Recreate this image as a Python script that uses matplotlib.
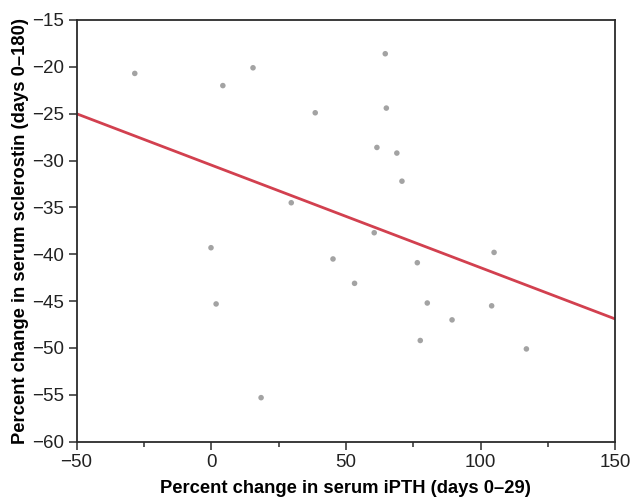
import matplotlib
matplotlib.use("Agg")
import matplotlib.pyplot as plt
import numpy as np
from matplotlib.ticker import MultipleLocator

# percent change in iPTH (days 0-29) vs percent change in sclerostin (days 0-180)
ipth = [-28.4, 4.3, 15.5, 38.6, 29.7, -0.1, 64.6, 65.0, 61.5, 68.9, 70.8, 60.5,
        1.8, 18.5, 45.2, 105.0, 76.5, 53.2, 80.2, 104.1, 89.4, 77.6, 117.0]
sclerostin = [-20.7, -22.0, -20.1, -24.9, -34.5, -39.3, -18.6, -24.4, -28.6, -29.2, -32.2, -37.7,
              -45.3, -55.3, -40.5, -39.8, -40.9, -43.1, -45.2, -45.5, -47.0, -49.2, -50.1]

# regression line
fit_intercept = -30.48
fit_slope = -0.1095

plt.rcParams['font.family'] = ['Liberation Sans', 'DejaVu Sans']

fig = plt.figure(figsize=(6.33, 5), dpi=100)
ax = fig.add_axes([0.121, 0.1166, 0.851, 0.8434])

ax.scatter(ipth, sclerostin, s=16, color="#a3a3a3", edgecolors="none", zorder=3)

xs = np.array([-50, 150])
ax.plot(xs, fit_intercept + fit_slope * xs, color="#d2404f", linewidth=2.0, zorder=2)

ax.set_xlim(-50, 150)
ax.set_ylim(-60, -15)
ax.xaxis.set_major_locator(MultipleLocator(50))
ax.xaxis.set_minor_locator(MultipleLocator(25))
ax.yaxis.set_major_locator(MultipleLocator(5))

for s in ax.spines.values():
    s.set_color("#2b2b2b")
    s.set_linewidth(1.3)

ax.tick_params(axis="both", which="major", direction="out", length=6, width=1.1,
               color="#2b2b2b", labelsize=13.5, labelcolor="#222222", pad=3)
ax.tick_params(axis="x", which="minor", direction="out", length=3.5, width=1.1, color="#2b2b2b")
ax.tick_params(top=False, right=False)

ax.set_xlabel("Percent change in serum iPTH (days 0\u201329)", fontsize=13.2,
              fontweight="bold", labelpad=6)
ax.set_ylabel("Percent change in serum sclerostin (days 0\u2013180)", fontsize=13.2,
              fontweight="bold", labelpad=2)

fig.savefig("out.png", dpi=100)
